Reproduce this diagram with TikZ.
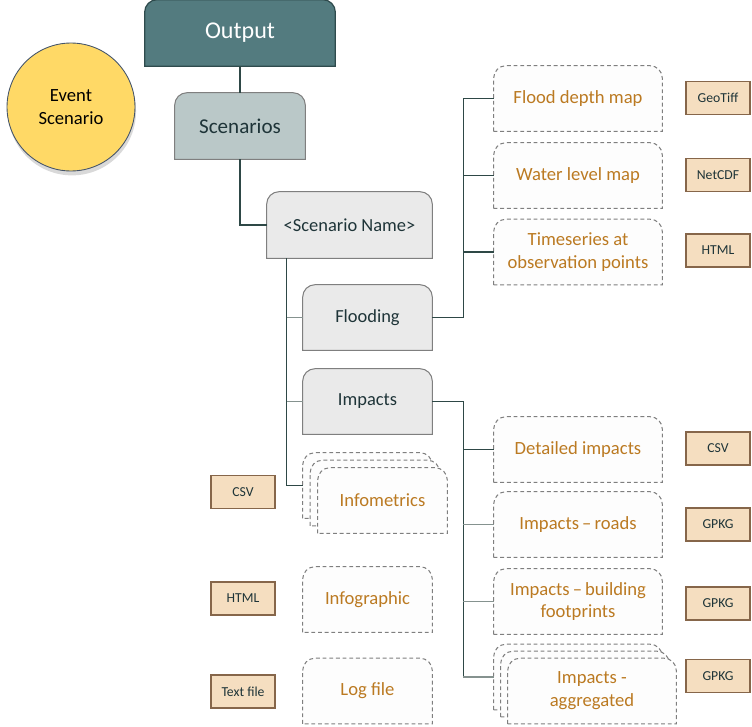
\documentclass[tikz,border=0pt]{standalone}
\usepackage{fontspec}
\setmainfont{Carlito}
\usetikzlibrary{backgrounds,shadows}

\definecolor{outputfill}{HTML}{537B7F}
\definecolor{outputline}{HTML}{2F4B4D}
\definecolor{scenfill}{HTML}{BAC8C8}
\definecolor{groupfill}{HTML}{EAEAEA}
\definecolor{boxline}{HTML}{7F7F7F}
\definecolor{itemtext}{HTML}{BB7A22}
\definecolor{itemfill}{HTML}{FDFDFD}
\definecolor{tagfill}{HTML}{F5DEC0}
\definecolor{tagline}{HTML}{86664A}
\definecolor{linkdark}{HTML}{2E4846}
\definecolor{linkgray}{HTML}{85928F}
\definecolor{eventfill}{HTML}{FFD966}
\definecolor{eventline}{HTML}{44546A}
\definecolor{darktext}{HTML}{1E3438}

% box with rounded top corners, drawn behind the node text
\newcommand{\tabshape}[2]{%
  \begin{pgfonlayer}{background}
    \draw[#2] (#1.south west) -- ([yshift=-0.25cm]#1.north west)
      arc[start angle=180,end angle=90,radius=0.25cm]
      -- ([xshift=-0.25cm]#1.north east)
      arc[start angle=90,end angle=0,radius=0.25cm]
      -- (#1.south east) -- cycle;
  \end{pgfonlayer}}

\begin{document}
\begin{tikzpicture}[x=0.02cm,y=0.02cm,
  box/.style={minimum width=2.58cm,minimum height=1.3cm,inner sep=0pt,align=center},
  wide/.style={box,minimum width=3.36cm},
  grouptext/.style={text=darktext,font=\fontsize{10.5}{13}\selectfont},
  itemtext/.style={text=itemtext,font=\fontsize{10.6}{13}\selectfont},
  groupline/.style={fill=groupfill,draw=boxline,line width=0.6pt},
  itemline/.style={fill=itemfill,draw=boxline,line width=0.6pt,dash pattern=on 2.2pt off 1.6pt},
  filetag/.style={rectangle,minimum width=1.28cm,minimum height=0.66cm,inner sep=0pt,
    fill=tagfill,draw=tagline,line width=0.6pt,text=darktext,font=\fontsize{7.8}{9}\selectfont},
  trunk/.style={draw=linkdark,line width=0.75pt},
  twig/.style={draw=linkgray,line width=0.75pt}]
\useasboundingbox (0,0) rectangle (752,-727);

% top of the tree
\node[box,minimum width=3.8cm,minimum height=1.32cm,text=white,font=\fontsize{13.7}{16}\selectfont] (output) at (240,-33) {Output};
\tabshape{output}{fill=outputfill,draw=outputline,line width=0.7pt}
\node[box,minimum width=2.6cm,minimum height=1.32cm,text=darktext,font=\fontsize{12}{14}\selectfont] (scenarios) at (240,-126) {Scenarios};
\tabshape{scenarios}{fill=scenfill,draw=boxline,line width=0.6pt}
\node[box,minimum width=3.3cm,minimum height=1.32cm,grouptext] (scenname) at (349.5,-225) {<Scenario Name>};
\tabshape{scenname}{groupline}

\node[circle,minimum size=2.56cm,inner sep=0pt,align=center,fill=eventfill,draw=eventline,line width=0.5pt,
  drop shadow={opacity=0.3,shadow xshift=0.6pt,shadow yshift=-2.5pt},
  text=black,font=\fontsize{10.6}{13}\selectfont] (event) at (71,-107) {Event\\Scenario};

% scenario content
\node[box,grouptext] (flooding) at (367.5,-317.5) {Flooding};
\tabshape{flooding}{groupline}
\node[box,grouptext] (impacts) at (367.5,-401.5) {Impacts};
\tabshape{impacts}{groupline}

\node[box] (infoback) at (367.5,-485.5) {};
\tabshape{infoback}{itemline}
\node[box] (infomid) at (375,-493) {};
\tabshape{infomid}{itemline}
\node[box,itemtext] (infometrics) at (382.5,-500.5) {Infometrics};
\tabshape{infometrics}{itemline}
\node[box,itemtext] (infographic) at (367.5,-599.5) {Infographic};
\tabshape{infographic}{itemline}
\node[box,itemtext] (logfile) at (367.5,-691) {Log file};
\tabshape{logfile}{itemline}

\node[filetag] (csvleft) at (243,-492) {CSV};
\node[filetag] (htmlleft) at (243,-598.5) {HTML};
\node[filetag] (textfile) at (243,-691.5) {Text file};

% flooding outputs
\node[wide,itemtext] (flooddepth) at (578,-98.5) {Flood depth map};
\tabshape{flooddepth}{itemline}
\node[wide,itemtext] (waterlevel) at (578,-175.5) {Water level map};
\tabshape{waterlevel}{itemline}
\node[wide,itemtext] (timeseries) at (578,-252) {Timeseries at\\observation points};
\tabshape{timeseries}{itemline}

% impacts outputs
\node[wide,itemtext] (detailed) at (578,-449.5) {Detailed impacts};
\tabshape{detailed}{itemline}
\node[wide,itemtext] (roads) at (578,-524.5) {Impacts\,--\,roads};
\tabshape{roads}{itemline}
\node[wide,itemtext] (buildings) at (578,-601.5) {Impacts\,--\,building\\footprints};
\tabshape{buildings}{itemline}
\node[wide] (aggback) at (578,-677) {};
\tabshape{aggback}{itemline}
\node[wide] (aggmid) at (585,-684) {};
\tabshape{aggmid}{itemline}
\node[wide,itemtext] (aggregated) at (592,-691) {Impacts -\\aggregated};
\tabshape{aggregated}{itemline}

\node[filetag] (geotiff) at (718,-98) {GeoTiff};
\node[filetag] (netcdf) at (718,-175) {NetCDF};
\node[filetag] (htmlright) at (718,-250.5) {HTML};
\node[filetag] (csvright) at (718,-448.5) {CSV};
\node[filetag] (gpkgroads) at (718,-524.5) {GPKG};
\node[filetag] (gpkgbuild) at (718,-603.5) {GPKG};
\node[filetag] (gpkgagg) at (718,-676) {GPKG};

% connectors
\draw[trunk] (output) -- (scenarios);
\draw[trunk] (scenarios.south) |- (scenname.west);
\coordinate (spine) at ([xshift=0.4cm]scenname.south west);
\draw[trunk] (spine) |- (infoback.west);
\draw[twig] (spine |- flooding.west) -- (flooding.west);
\draw[twig] (spine |- impacts.west) -- (impacts.west);

\draw[trunk] (flooding.east) -- ++(31,0) coordinate (floodspine) |- (flooddepth.west);
\draw[trunk] (floodspine |- waterlevel.west) -- (waterlevel.west);
\draw[trunk] (floodspine |- timeseries.west) -- (timeseries.west);

\draw[trunk] (impacts.east) -- ++(31,0) coordinate (impactspine) |- (aggback.west);
\draw[trunk] (impactspine |- detailed.west) -- (detailed.west);
\draw[twig] (impactspine |- roads.west) -- (roads.west);
\draw[twig] (impactspine |- buildings.west) -- (buildings.west);
\draw[twig] (impactspine |- aggback.west) -- (aggback.west);
\end{tikzpicture}
\end{document}
